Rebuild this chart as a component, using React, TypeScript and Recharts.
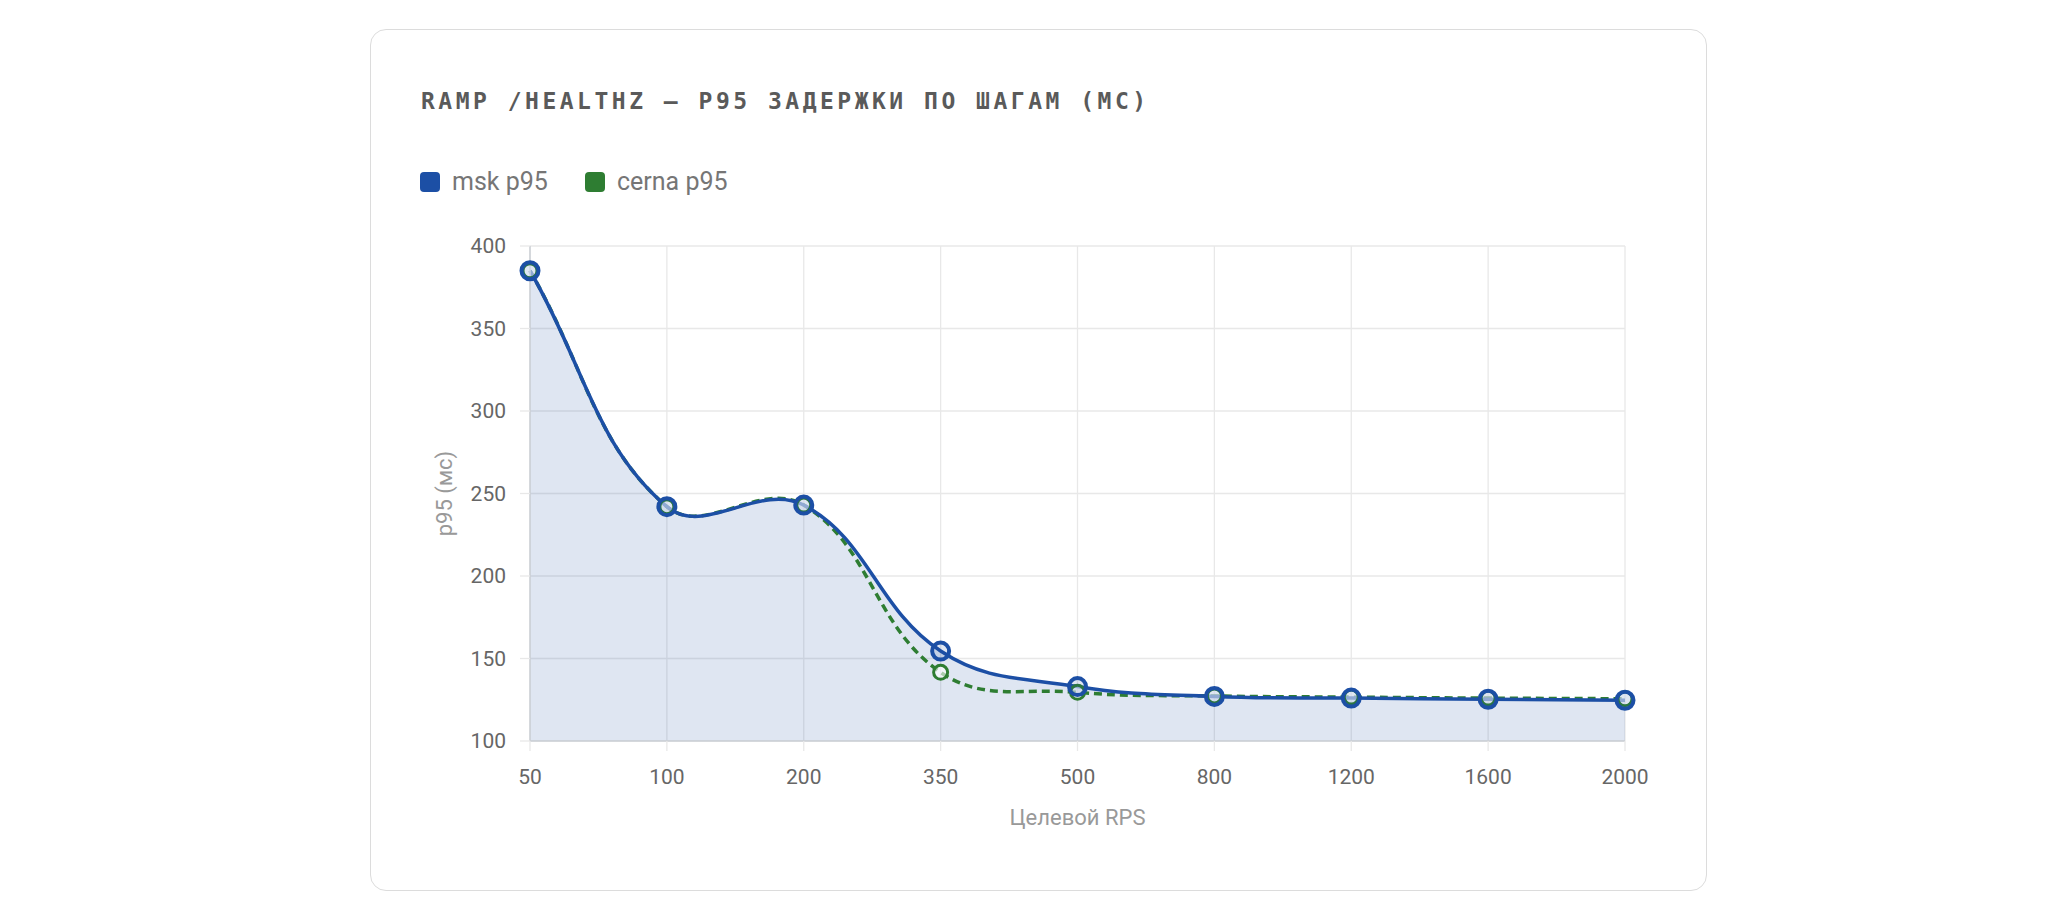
import React from 'react'
import { ComposedChart, Area, Line, XAxis, YAxis, CartesianGrid } from 'recharts'

const categories = ['50', '100', '200', '350', '500', '800', '1200', '1600', '2000']
const mskP95 = [385, 242, 243, 154.5, 133, 127, 126, 125.3, 124.7]
const cernaP95 = [385, 242, 243, 141.6, 129.5, 127.3, 126.6, 126, 125.6]
const yTicks = [100, 150, 200, 250, 300, 350, 400]

const BLUE = '#1c4fa5'
const GREEN = '#2e7d32'

const data = categories.map((rps, i) => ({ rps, msk: mskP95[i], cerna: cernaP95[i] }))

// chart.js-style spline (tension), as a d3 curve factory
function splineCurve(tension: number) {
  return (context: any) => {
    let pts: [number, number][] = []
    let line = NaN
    return {
      areaStart() { line = 0 },
      areaEnd() { line = NaN },
      lineStart() { pts = [] },
      lineEnd() {
        const n = pts.length
        if (n) {
          const cps = pts.map((p, i) => {
            const prev = pts[i - 1] || p
            const next = pts[i + 1] || p
            const d01 = Math.hypot(p[0] - prev[0], p[1] - prev[1])
            const d12 = Math.hypot(next[0] - p[0], next[1] - p[1])
            let s01 = d01 / (d01 + d12)
            let s12 = d12 / (d01 + d12)
            if (isNaN(s01)) s01 = 0
            if (isNaN(s12)) s12 = 0
            const fa = tension * s01
            const fb = tension * s12
            return {
              px: p[0] - fa * (next[0] - prev[0]),
              py: p[1] - fa * (next[1] - prev[1]),
              nx: p[0] + fb * (next[0] - prev[0]),
              ny: p[1] + fb * (next[1] - prev[1]),
            }
          })
          if (line) context.lineTo(pts[0][0], pts[0][1])
          else context.moveTo(pts[0][0], pts[0][1])
          for (let i = 1; i < n; i++) {
            context.bezierCurveTo(cps[i - 1].nx, cps[i - 1].ny, cps[i].px, cps[i].py, pts[i][0], pts[i][1])
          }
        }
        if (line || (line !== 0 && n === 1)) context.closePath()
        line = 1 - line
      },
      point(x: number, y: number) { pts.push([+x, +y]) },
    }
  }
}

const curve = splineCurve(0.4)

const legendItems = [
  { name: 'msk p95', color: BLUE, left: 412 },
  { name: 'cerna p95', color: GREEN, left: 577 },
]

export default function App() {
  return (
    <div style={{ position: 'relative', width: 2051, height: 889 }}>
      <div
        style={{
          position: 'absolute',
          left: 362,
          top: 21,
          width: 1337,
          height: 862,
          boxSizing: 'border-box',
          border: '1.5px solid #dcdcdc',
          borderRadius: 16,
          background: '#fff',
        }}
      />
      <div
        style={{
          position: 'absolute',
          left: 413,
          top: 82,
          fontFamily: '"DejaVu Sans Mono", monospace',
          fontWeight: 700,
          fontSize: 23,
          lineHeight: '23px',
          letterSpacing: 3.5,
          color: '#5a5a5a',
          whiteSpace: 'nowrap',
        }}
      >
        RAMP /HEALTHZ — P95 ЗАДЕРЖКИ ПО ШАГАМ (МС)
      </div>
      {legendItems.map((item) => (
        <div
          key={item.name}
          style={{
            position: 'absolute',
            left: item.left,
            top: 161,
            height: 25,
            display: 'flex',
            alignItems: 'center',
            fontFamily: 'Roboto, sans-serif',
            fontSize: 25,
            lineHeight: '25px',
            color: '#767676',
            whiteSpace: 'nowrap',
          }}
        >
          <span style={{ width: 20, height: 20, borderRadius: 4, background: item.color, marginRight: 12 }} />
          {item.name}
        </div>
      ))}
      <div style={{ position: 'absolute', left: 332, top: 192 }}>
        <ComposedChart
          width={1330}
          height={660}
          data={data}
          margin={{ top: 46, right: 45, left: 18, bottom: 39 }}
          style={{ fontFamily: 'Roboto, sans-serif' }}
        >
          <CartesianGrid stroke="#e8e8e8" strokeWidth={1.3} />
          <XAxis
            dataKey="rps"
            interval={0}
            height={80}
            tickSize={10}
            tickMargin={18}
            tick={{ fill: '#666', fontSize: 21 }}
            tickLine={{ stroke: '#e8e8e8', strokeWidth: 1.3 }}
            axisLine={{ stroke: '#cdd1d6', strokeWidth: 1.5 }}
            label={{ value: 'Целевой RPS', position: 'insideTop', offset: 68, fill: '#999', fontSize: 22 }}
          />
          <YAxis
            type="number"
            domain={[100, 400]}
            ticks={yTicks}
            width={172}
            tickSize={10}
            tickMargin={14}
            tick={{ fill: '#666', fontSize: 21 }}
            tickLine={{ stroke: '#e8e8e8', strokeWidth: 1.3 }}
            axisLine={{ stroke: '#cdd1d6', strokeWidth: 1.5 }}
            label={{ value: 'p95 (мс)', angle: -90, position: 'center', fill: '#999', fontSize: 22 }}
          />
          <Area
            type={curve as any}
            dataKey="msk"
            baseValue={100}
            stroke="none"
            fill={BLUE}
            fillOpacity={0.14}
            dot={false}
            activeDot={false}
            isAnimationActive={false}
          />
          <Line
            type={curve as any}
            dataKey="cerna"
            stroke={GREEN}
            strokeWidth={3.5}
            strokeDasharray="8 5"
            dot={{ r: 7, stroke: GREEN, strokeWidth: 3, fill: 'rgba(255,255,255,0.6)', strokeDasharray: '' }}
            activeDot={false}
            isAnimationActive={false}
          />
          <Line
            type={curve as any}
            dataKey="msk"
            stroke={BLUE}
            strokeWidth={3.5}
            dot={{ r: 8.5, stroke: BLUE, strokeWidth: 4, fill: 'rgba(28,79,165,0.14)' }}
            activeDot={false}
            isAnimationActive={false}
          />
        </ComposedChart>
      </div>
    </div>
  )
}
